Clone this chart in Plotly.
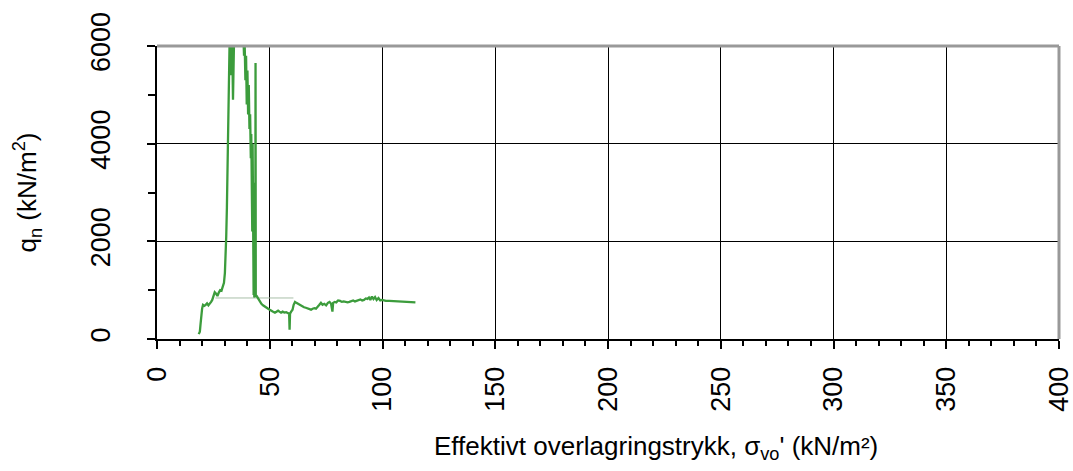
import plotly.graph_objects as go

# Effective overburden stress (kN/m²) and net cone resistance qn (kN/m²)
sigma_vo = [
    18.5, 19.0, 19.3, 19.6, 20.0, 20.4, 21.0, 21.6, 22.2, 22.8, 23.4, 24.0, 24.5, 25.0,
    25.6, 26.2, 26.8, 27.4, 28.0, 28.6, 29.2, 29.7, 30.1, 30.4, 30.7, 31.0, 31.2, 31.4,
    31.6, 31.8, 32.0, 32.3,
    32.6, 32.9, 33.1, 33.4, 33.7, 34.0, 34.3, 34.6, 35.0, 35.4, 36.5, 37.5,
    38.3, 38.6, 38.9, 39.2, 39.5, 39.8, 40.1, 40.4, 40.7, 41.0, 41.3, 41.6, 41.8, 41.95,
    42.1, 42.25, 42.4, 42.55, 42.7, 42.85, 43.0, 43.15, 43.3, 43.45, 43.6, 43.7, 43.8,
    44.2, 44.8, 45.5, 46.3, 47.0, 47.8, 48.5, 49.3, 50.0, 50.8, 51.5, 52.3, 53.0, 53.7,
    54.3, 55.0, 55.7, 56.5, 57.3, 58.0, 58.6, 58.8, 59.0, 59.5, 60.1, 60.6, 61.2, 61.8,
    62.5, 63.2, 63.8, 64.5, 65.2, 66.0, 66.8, 67.5, 68.3, 69.0, 69.8, 70.5, 71.2, 72.0,
    72.7, 73.4, 74.2, 75.0, 75.8, 76.5, 77.2, 77.8, 78.1, 78.8, 79.5, 80.3, 81.2, 82.0,
    82.8, 83.6, 84.5, 85.3, 86.1, 87.0, 87.8, 88.6, 89.4, 90.2, 91.0, 91.8, 92.6, 93.3,
    94.0, 94.6, 95.3, 96.0, 96.7, 97.4, 98.2, 99.0, 99.8, 100.6, 101.5, 103.0, 105.0,
    107.0, 109.0, 111.0, 113.0, 114.6,
]
q_n = [
    100, 150, 300, 480, 620, 700, 680, 700, 730, 690, 720, 760, 800, 900,
    960, 930, 880, 950, 1000, 990, 1060, 1150, 1350, 1650, 2100, 2700, 3300, 3900,
    4500, 5200, 5800, 6400,
    6300, 5400, 6200, 5900, 4900, 5600, 6500, 6100, 6600, 7000, 7200, 7000,
    6200, 5800, 6000, 5300, 5800, 4800, 5500, 4600, 5200, 4300, 4600, 3700, 4200, 3000,
    3900, 2200, 4000, 1200, 3800, 900, 3200, 850, 2600, 900, 1800, 5650, 900,
    880, 830, 760, 720, 690, 660, 640, 620, 600, 570, 560, 540, 560, 580,
    560, 540, 560, 540, 550, 540, 520, 190, 520, 560, 600, 700, 760, 740,
    720, 700, 690, 660, 650, 640, 620, 610, 600, 620, 630, 620, 670, 700,
    740, 700, 720, 690, 740, 760, 720, 560, 740, 760, 750, 790, 780, 760,
    770, 760, 750, 760, 780, 790, 770, 780, 800, 810, 790, 800, 830, 820,
    850, 800, 870, 820, 860, 800, 840, 790, 800, 790, 780, 780, 775,
    775, 770, 770, 760, 750,
]

# thin reference line
ref_x = [25.9, 60.5]
ref_y = [840, 840]

x_ticks = [0, 50, 100, 150, 200, 250, 300, 350, 400]
y_ticks = [0, 2000, 4000, 6000]

x_title = "Effektivt overlagringstrykk, σ<sub>vo</sub>' (kN/m²)"
y_title = "q<sub>n</sub> (kN/m<sup>2</sup>)"

FONT = "Liberation Sans, Arial, sans-serif"

fig = go.Figure()
fig.add_trace(go.Scatter(x=ref_x, y=ref_y, mode="lines",
                         line=dict(color="#a9bfa9", width=1), hoverinfo="skip"))
fig.add_trace(go.Scatter(x=sigma_vo, y=q_n, mode="lines",
                         line=dict(color="#3c9c3c", width=2.3)))

fig.update_layout(
    width=1073, height=471,
    margin=dict(l=157, r=14, t=46, b=132),
    paper_bgcolor="white", plot_bgcolor="white",
    showlegend=False,
    font=dict(family=FONT, size=27, color="black"),
    xaxis=dict(
        range=[0, 400], tickvals=x_ticks, ticktext=[str(v) for v in x_ticks],
        tickangle=-90, showgrid=True, gridcolor="black", gridwidth=1,
        showline=True, linecolor="black", linewidth=2,
        ticks="outside", ticklen=8, tickcolor="black", tickwidth=1.5,
        minor=dict(dtick=10, ticks="outside", ticklen=5, tickcolor="black", showgrid=False),
        zeroline=False, automargin=False, ticklabeloverflow="allow",
        ticklabelstandoff=7,
    ),
    yaxis=dict(
        range=[0, 6000], tickvals=y_ticks, ticktext=[str(v) for v in y_ticks],
        tickangle=-90, showgrid=True, gridcolor="black", gridwidth=1,
        showline=True, linecolor="black", linewidth=2,
        ticks="outside", ticklen=8, tickcolor="black", tickwidth=1.5,
        minor=dict(dtick=1000, ticks="outside", ticklen=7, tickcolor="black", showgrid=False),
        zeroline=False, automargin=False, ticklabeloverflow="allow",
        title=dict(text=y_title, font=dict(size=26), standoff=42),
        ticklabelstandoff=26,
    ),
    annotations=[
        dict(text=x_title, xref="paper", yref="paper", x=0.553, y=-0.369,
             xanchor="center", yanchor="middle", showarrow=False,
             font=dict(size=26, family=FONT, color="black")),
    ],
    shapes=[
        dict(type="line", xref="paper", yref="paper", x0=0, x1=1, y0=1, y1=1,
             line=dict(color="#999999", width=3)),
        dict(type="line", xref="paper", yref="paper", x0=1, x1=1, y0=0, y1=1,
             line=dict(color="#999999", width=3)),
    ],
)

fig.write_html("out.html")
